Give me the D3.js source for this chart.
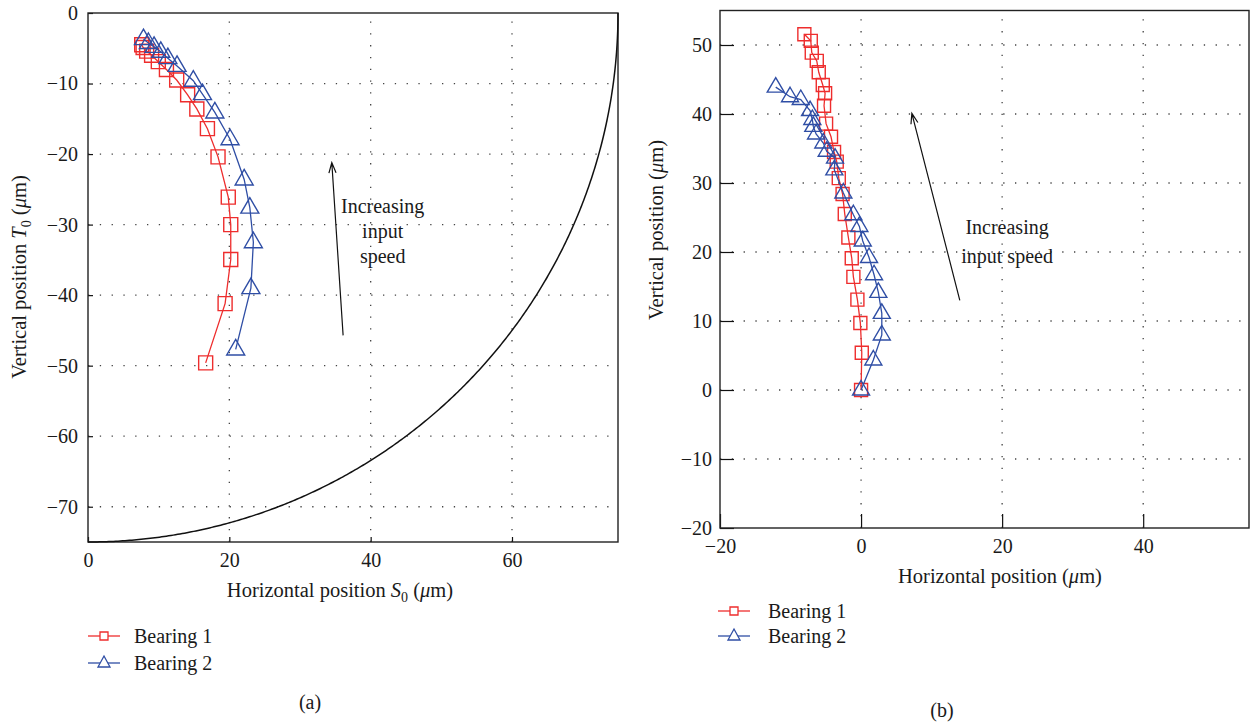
<!DOCTYPE html>
<html>
<head>
<meta charset="utf-8">
<script src="https://cdn.jsdelivr.net/npm/d3@7"></script>
<style>
  body { margin: 0; background: #fff; }
  text { font-family: "Liberation Serif", "Times New Roman", serif; fill: #1a1a1a; }
</style>
</head>
<body>
<svg id="chart" width="1253" height="724"></svg>
<script>
// ---- Panel (a): locus of the ball centre, S0 / T0 in micrometres ----
const bearing1A_S = [7.6, 7.8, 8.3, 9.0, 9.95, 11.1, 12.55, 14.1, 15.4, 16.9, 18.4, 19.85, 20.2, 20.2, 19.4, 16.65];
const bearing1A_T = [-4.5, -4.9, -5.4, -6.0, -6.9, -8.0, -9.5, -11.6, -13.6, -16.4, -20.4, -26.1, -30.0, -34.95, -41.2, -49.6];
const bearing2A_S = [7.85, 8.55, 9.35, 10.3, 11.3, 12.6, 14.9, 16.2, 17.95, 20.1, 22.1, 22.9, 23.4, 23.05, 20.9];
const bearing2A_T = [-3.7, -4.25, -4.8, -5.5, -6.4, -7.5, -9.6, -11.5, -14.1, -17.9, -23.6, -27.6, -32.5, -39.0, -47.7];
const ballRadiusA = 75;
const xTicksA = [0, 20, 40, 60];
const yTicksA = [0, -10, -20, -30, -40, -50, -60, -70];
const xGridA = [20, 40, 60];
const yGridA = [-10, -20, -30, -40, -50, -60, -70];

// ---- Panel (b): horizontal / vertical position in micrometres ----
const bearing1B_X = [-8.04, -7.13, -6.99, -6.28, -6.0, -5.43, -5.1, -5.25, -4.96, -4.26, -3.83, -3.45, -3.16, -2.62, -2.31, -1.8, -1.32, -1.09, -0.52, -0.1, 0.1, 0.0];
const bearing1B_Y = [51.55, 50.6, 48.9, 47.7, 46.05, 44.2, 43.0, 41.2, 38.6, 36.7, 34.5, 33.1, 30.7, 28.4, 25.5, 22.1, 19.1, 16.4, 13.1, 9.7, 5.4, 0.0];
const bearing2B_X = [-12.1, -10.07, -8.55, -7.23, -6.91, -6.77, -6.38, -5.35, -4.87, -3.69, -3.79, -2.51, -1.09, -0.24, 0.24, 1.13, 1.84, 2.45, 2.94, 2.94, 1.74, 0.0];
const bearing2B_Y = [43.9, 42.5, 42.1, 40.5, 39.2, 38.2, 37.1, 35.8, 34.6, 33.6, 31.9, 28.55, 25.4, 23.7, 21.6, 19.2, 16.7, 14.15, 11.1, 7.97, 4.35, 0.0];
const xTicksB = [-20, 0, 20, 40];
const yTicksB = [-20, -10, 0, 10, 20, 30, 40, 50];
const xGridB = [0, 20, 40];
const yGridB = [-10, 0, 10, 20, 30, 40, 50];

const seriesNames = ["Bearing 1", "Bearing 2"];
const RED = "#ee2d2d";
const BLUE = "#2f4ea5";

const svg = d3.select("#chart");

function squarePath(s) {
  const h = s / 2;
  return `M${-h},${-h}H${h}V${h}H${-h}Z`;
}
function trianglePath(w, up, down) {
  return `M0,${-up}L${w},${down}L${-w},${down}Z`;
}

function drawPanel(cfg) {
  const g = svg.append("g");
  const x = d3.scaleLinear().domain(cfg.xDomain).range(cfg.xRange);
  const y = d3.scaleLinear().domain(cfg.yDomain).range(cfg.yRange);
  const [x0, x1] = cfg.xRange;
  const [y0, y1] = cfg.yRange;

  // dotted grid
  g.append("g").selectAll("line").data(cfg.xGrid).join("line")
    .attr("x1", d => x(d)).attr("x2", d => x(d))
    .attr("y1", y0).attr("y2", y1)
    .attr("stroke", "#444").attr("stroke-width", 1.3)
    .attr("stroke-dasharray", "1.3,10.5");
  g.append("g").selectAll("line").data(cfg.yGrid).join("line")
    .attr("y1", d => y(d)).attr("y2", d => y(d))
    .attr("x1", x0).attr("x2", x1)
    .attr("stroke", "#444").attr("stroke-width", 1.3)
    .attr("stroke-dasharray", "1.3,10.5");

  // axes with inward ticks
  const fmt = d3.format("d");
  const xAxis = g.append("g").attr("transform", `translate(0,${y0})`)
    .call(d3.axisBottom(x).tickValues(cfg.xTicks).tickFormat(fmt)
      .tickSizeInner(-cfg.tickLen).tickSizeOuter(0).tickPadding(cfg.xPad));
  const yAxis = g.append("g").attr("transform", `translate(${x0},0)`)
    .call(d3.axisLeft(y).tickValues(cfg.yTicks).tickFormat(fmt)
      .tickSizeInner(-cfg.tickLen).tickSizeOuter(0).tickPadding(cfg.yPad));
  [xAxis, yAxis].forEach(a => {
    a.attr("font-family", null).attr("font-size", null);
    a.select(".domain").remove();
    a.selectAll("line").attr("stroke", "#111").attr("stroke-width", 1.2);
    a.selectAll("text").attr("font-size", 20).attr("fill", "#1a1a1a")
      .style("font-family", '"Liberation Serif", serif');
  });

  // frame
  g.append("rect").attr("x", x0).attr("y", y1)
    .attr("width", x1 - x0).attr("height", y0 - y1)
    .attr("fill", "none").attr("stroke", "#222").attr("stroke-width", 1.4);

  if (cfg.extra) cfg.extra(g, x, y);

  // series
  const line = d3.line().x(d => x(d[0])).y(d => y(d[1]));
  cfg.series.forEach(s => {
    const pts = d3.zip(s.xs, s.ys);
    g.append("path").datum(pts).attr("d", line)
      .attr("fill", "none").attr("stroke", s.color).attr("stroke-width", 1.3);
    g.append("g").selectAll("path").data(pts).join("path")
      .attr("transform", d => `translate(${x(d[0])},${y(d[1])})`)
      .attr("d", s.marker)
      .attr("fill", "none").attr("stroke", s.color).attr("stroke-width", 1.4);
  });

  // annotation arrow
  const a = cfg.arrow;
  const ax0 = x(a.from[0]), ay0 = y(a.from[1]), ax1 = x(a.to[0]), ay1 = y(a.to[1]);
  const ang = Math.atan2(ay1 - ay0, ax1 - ax0);
  const hl = 11, spread = 0.33;
  g.append("path")
    .attr("d", `M${ax0},${ay0}L${ax1},${ay1}` +
      `M${ax1 - hl * Math.cos(ang - spread)},${ay1 - hl * Math.sin(ang - spread)}L${ax1},${ay1}` +
      `L${ax1 - hl * Math.cos(ang + spread)},${ay1 - hl * Math.sin(ang + spread)}`)
    .attr("fill", "none").attr("stroke", "#111").attr("stroke-width", 1.2);
  const t = g.append("text").attr("x", x(cfg.note.at[0])).attr("y", y(cfg.note.at[1]))
    .attr("text-anchor", "middle").attr("font-size", 20);
  cfg.note.lines.forEach((ln, i) => {
    t.append("tspan").attr("x", x(cfg.note.at[0])).attr("dy", i === 0 ? 0 : cfg.note.lh).text(ln);
  });

  // axis titles
  cfg.xTitle(g.append("text").attr("x", cfg.xTitlePos[0]).attr("y", cfg.xTitlePos[1])
    .attr("text-anchor", "middle").attr("font-size", 20.5));
  cfg.yTitle(g.append("text")
    .attr("transform", `translate(${cfg.yTitlePos[0]},${cfg.yTitlePos[1]}) rotate(-90)`)
    .attr("text-anchor", "middle").attr("font-size", 20.5));

  // legend
  cfg.series.forEach((s, i) => {
    const ly = cfg.legend[1] + i * cfg.legendStep;
    const lx = cfg.legend[0];
    g.append("line").attr("x1", lx).attr("x2", lx + 32).attr("y1", ly).attr("y2", ly)
      .attr("stroke", s.color).attr("stroke-width", 1.3);
    g.append("path").attr("transform", `translate(${lx + 16},${ly})`).attr("d", s.legendMarker)
      .attr("fill", "#fff").attr("stroke", s.color).attr("stroke-width", 1.3);
    g.append("text").attr("x", lx + cfg.legendTextDx).attr("y", ly + 7)
      .attr("font-size", 20).text(seriesNames[i]);
  });

  svg.append("text").attr("x", cfg.caption[0]).attr("y", cfg.caption[1])
    .attr("text-anchor", "middle").attr("font-size", 20).text(cfg.caption[2]);
}

function withMicro(sel, parts) {
  parts.forEach(p => {
    const ts = sel.append("tspan").text(p.t);
    if (p.i) ts.attr("font-style", "italic");
    if (p.sub) ts.attr("font-size", 14).attr("dy", 5);
    if (p.back) ts.attr("dy", -5);
  });
}

drawPanel({
  xDomain: [0, 75], yDomain: [-75, 0],
  xRange: [88, 618], yRange: [542, 13],
  xTicks: xTicksA, yTicks: yTicksA, xGrid: xGridA, yGrid: yGridA,
  tickLen: 5, xPad: 11, yPad: 10,
  series: [
    { xs: bearing1A_S, ys: bearing1A_T, color: RED, marker: squarePath(14), legendMarker: squarePath(8) },
    { xs: bearing2A_S, ys: bearing2A_T, color: BLUE, marker: trianglePath(9, 10, 5.5), legendMarker: trianglePath(6, 7, 4) }
  ],
  extra: (g, x, y) => {
    // outline of the ball of radius 75 µm
    const arc = d3.range(0, 90.25, 0.25).map(deg => {
      const r = deg * Math.PI / 180;
      return [ballRadiusA * Math.sin(r), -ballRadiusA * Math.cos(r)];
    });
    g.append("path").datum(arc)
      .attr("d", d3.line().x(d => x(d[0])).y(d => y(d[1])))
      .attr("fill", "none").attr("stroke", "#111").attr("stroke-width", 1.5);
  },
  arrow: { from: [36.1, -45.7], to: [34.5, -21.2] },
  note: { at: [41.7, -28.4], lines: ["Increasing", "input", "speed"], lh: 25 },
  xTitle: t => withMicro(t, [{ t: "Horizontal position " }, { t: "S", i: true }, { t: "0", sub: true }, { t: " (", back: true }, { t: "μ", i: true }, { t: "m)" }]),
  xTitlePos: [340, 597],
  yTitle: t => withMicro(t, [{ t: "Vertical position " }, { t: "T", i: true }, { t: "0", sub: true }, { t: " (", back: true }, { t: "μ", i: true }, { t: "m)" }]),
  yTitlePos: [26, 277],
  legend: [88, 636], legendStep: 27, legendTextDx: 46,
  caption: [310, 709, "(a)"]
});

drawPanel({
  xDomain: [-20, 55], yDomain: [-20, 55],
  xRange: [720, 1249], yRange: [528, 10.5],
  xTicks: xTicksB, yTicks: yTicksB, xGrid: xGridB, yGrid: yGridB,
  tickLen: 14, xPad: 11, yPad: 8,
  series: [
    { xs: bearing1B_X, ys: bearing1B_Y, color: RED, marker: squarePath(13), legendMarker: squarePath(8) },
    { xs: bearing2B_X, ys: bearing2B_Y, color: BLUE, marker: trianglePath(8.5, 9.5, 5), legendMarker: trianglePath(6, 7, 4) }
  ],
  arrow: { from: [14.0, 13.0], to: [7.2, 40.1] },
  note: { at: [20.7, 22.6], lines: ["Increasing", "input speed"], lh: 29 },
  xTitle: t => withMicro(t, [{ t: "Horizontal position (" }, { t: "μ", i: true }, { t: "m)" }]),
  xTitlePos: [1000, 583],
  yTitle: t => withMicro(t, [{ t: "Vertical position (" }, { t: "μ", i: true }, { t: "m)" }]),
  yTitlePos: [663, 230],
  legend: [718, 611], legendStep: 25, legendTextDx: 50,
  caption: [942, 717, "(b)"]
});
</script>
</body>
</html>
